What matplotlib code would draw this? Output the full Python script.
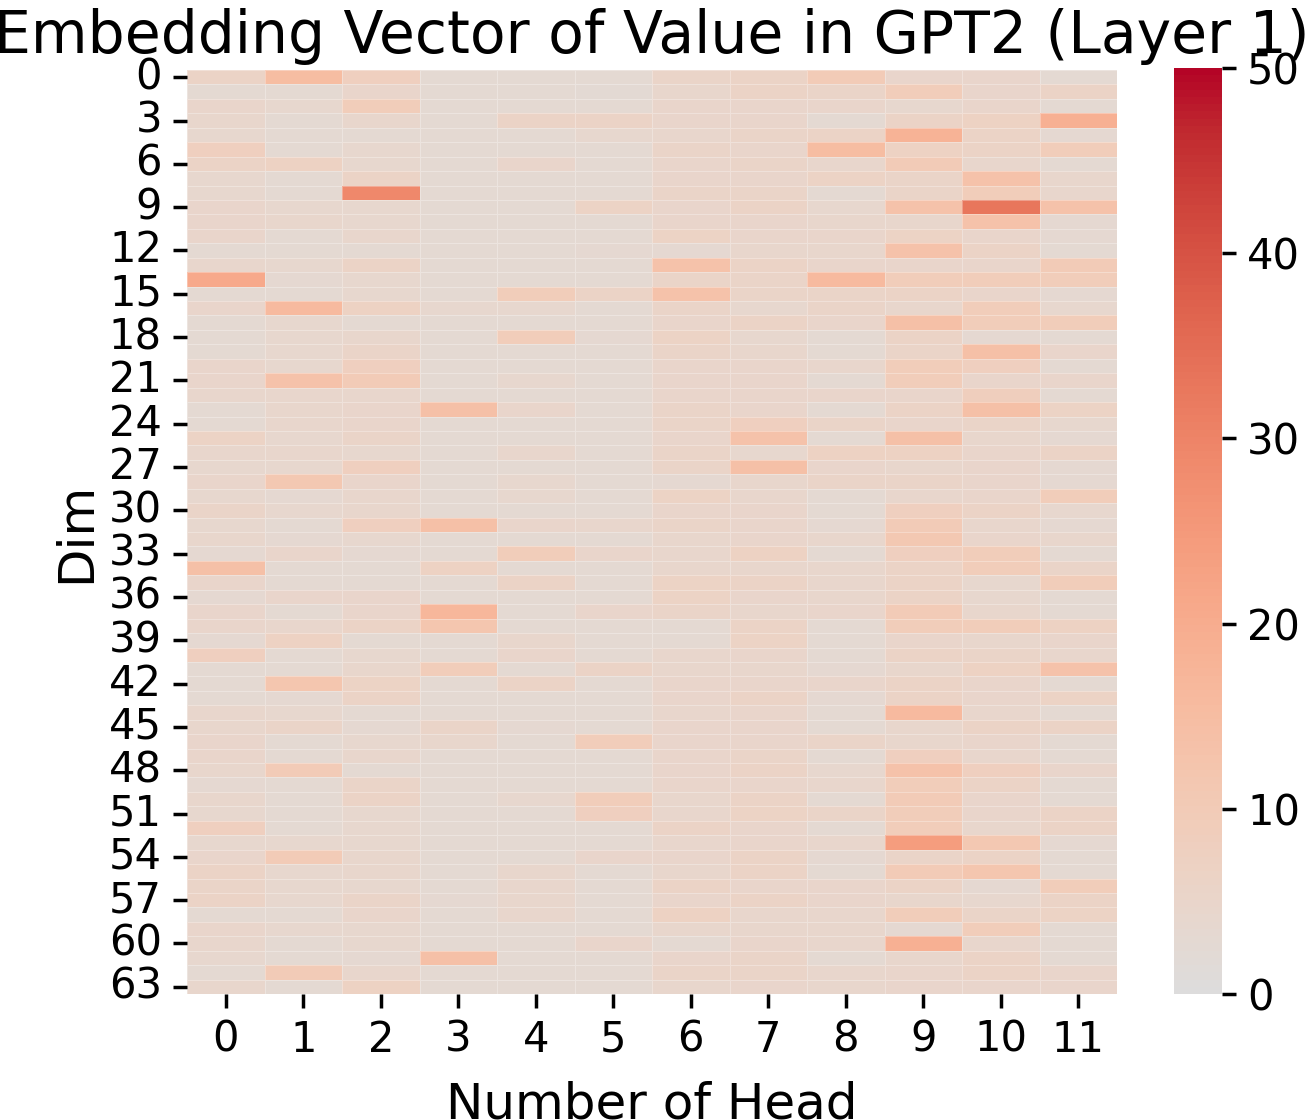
import matplotlib
matplotlib.use('Agg')
import matplotlib.pyplot as plt
import numpy as np
import seaborn as sns

# magnitude per (dim, head)
heads = list(range(12))
dim_ticks = list(range(0, 64, 3))
values = [
    [6, 15, 8, 3, 3, 3, 5.5, 6, 10, 5, 5, 3],
    [3, 3, 5, 3, 3, 2.5, 4.5, 6, 5.5, 9, 5, 6],
    [5, 4, 9, 3, 3, 3, 5, 5, 5, 4, 5, 3],
    [4.5, 3, 4.5, 3, 6, 6, 5, 5, 3, 6, 7, 19],
    [4, 3, 3, 3, 3, 4, 4.5, 5.5, 6, 18, 6, 3.5],
    [8, 3, 4, 3, 3, 3, 5.5, 5, 15, 7, 6, 9],
    [6, 7, 4, 3, 5, 3, 5, 5.5, 4.5, 10, 4.5, 3],
    [4, 3, 6, 3, 3, 3, 5, 5, 6.5, 5.5, 13, 4.5],
    [4, 3, 29, 3, 3, 3, 5.5, 5.5, 3, 5.5, 9, 4.5],
    [5, 4, 4, 3, 3, 6.5, 5, 6, 4, 13, 33, 13],
    [5, 4.5, 4, 3, 3, 3, 5, 5, 4.5, 4.5, 13, 3.5],
    [5, 3, 4.5, 3, 3, 3, 6.5, 5, 5, 6.5, 5, 3.5],
    [3, 3, 3, 3, 3, 3.5, 3.5, 4.5, 4.5, 13, 6, 3],
    [4.5, 4, 6, 3, 3, 3, 13, 6, 5, 5, 5, 10],
    [21, 3.5, 4, 3, 3, 3, 5.5, 5.5, 16, 9, 9, 9],
    [3, 3, 4, 3, 9, 6, 13, 5.5, 5.5, 6, 5, 3.5],
    [5, 16, 7, 4, 4, 3, 5.5, 4, 5.5, 4.5, 9, 4],
    [3, 4, 3, 3, 3, 3, 5, 6, 5, 14, 9, 9],
    [3, 4, 4.5, 3, 9, 3.5, 6.5, 4, 3, 6, 3.5, 3],
    [3, 4, 5.5, 3, 3, 3, 5.5, 4.5, 3, 5.5, 14, 5],
    [5, 4, 8, 3, 3, 3, 5, 5, 4.5, 9, 8, 3],
    [5, 13, 10, 3, 4, 3, 5, 5, 3, 9, 5, 5],
    [4.5, 4.5, 4.5, 3, 3, 3, 5, 5, 5, 5, 8.5, 3],
    [3, 4.5, 5, 14, 5, 3, 5.5, 5, 3, 6, 14, 6.5],
    [3, 4.5, 5, 3, 3, 3, 5.5, 8, 5.5, 5, 5.5, 4],
    [6.5, 4, 5.5, 3, 3, 3, 5, 13, 3, 14, 4.5, 3.5],
    [4.5, 4.5, 4, 3, 4.5, 3, 5.5, 4, 7, 7, 5, 6],
    [4, 4, 8, 3, 3, 3, 5.5, 14, 5, 4.5, 5, 3.5],
    [5, 11, 5, 3, 4, 3, 3.5, 4.5, 5.5, 5.5, 5, 3.5],
    [4, 3.5, 4.5, 3, 4, 3, 6.5, 4.5, 3, 4.5, 5, 9],
    [5.5, 4, 4.5, 3, 3, 3, 5, 5, 3, 8, 6, 4],
    [4, 3, 8, 14, 5, 4.5, 5.5, 5, 3.5, 10, 4.5, 3.5],
    [4.5, 3.5, 4, 3, 3, 3, 4.5, 5, 4.5, 11, 5, 4.5],
    [3.5, 5, 3.5, 3, 9, 5, 4.5, 7, 3, 8, 9, 3],
    [14, 3, 3, 7, 3, 3, 4.5, 4.5, 4.5, 6, 9, 5.5],
    [5, 3, 3, 3, 6, 3, 6.5, 6, 4.5, 6, 4, 9],
    [3.5, 5, 5, 3, 3, 3, 6.5, 5, 4.5, 6, 4, 3],
    [5, 3, 5, 17, 3, 5, 5.5, 4.5, 5, 10, 4.5, 3],
    [5, 4.5, 6, 12, 3, 3, 3, 6, 3, 9, 9, 7],
    [3.5, 7, 3, 3, 4.5, 3, 3, 6.5, 3, 5, 4.5, 5],
    [8, 3, 4, 3, 5, 3, 4.5, 5, 3, 6, 5.5, 4.5],
    [3, 3, 4.5, 9, 3, 6, 4.5, 4.5, 3.5, 4.5, 7, 13],
    [3, 12, 6.5, 3, 6, 3, 5, 5, 5, 6, 5, 3],
    [3, 3.5, 6, 3, 3, 3, 5, 6, 3.5, 6, 5, 6.5],
    [4.5, 4, 3, 3, 3, 3, 4.5, 5, 3, 16, 4.5, 3],
    [4.5, 5.5, 3.5, 5.5, 3.5, 3, 5, 5, 3, 4.5, 6, 6],
    [5, 3, 4, 4.5, 3, 9, 5, 5, 5.5, 4.5, 5, 3],
    [5, 3, 4.5, 3, 3, 3, 5, 5.5, 3, 8, 4.5, 3],
    [4.5, 10, 3, 3, 3, 3, 5, 6, 4, 13, 8, 5],
    [3.5, 3, 5.5, 3, 3, 3, 5, 5, 4.5, 9, 6, 3],
    [4.5, 3, 6, 3, 4, 9, 4.5, 6, 3, 10, 5, 3],
    [4, 3, 4, 3, 3, 8, 4.5, 6.5, 5.5, 9, 5, 6],
    [8, 3, 4, 3, 3, 3, 6, 5, 3, 9, 4.5, 6],
    [4, 4, 4, 3, 3, 3, 4.5, 5, 4.5, 24, 11, 3.5],
    [5, 10, 4.5, 3, 3, 5, 5, 6, 3.5, 5.5, 6, 3],
    [6, 4, 4.5, 3, 4.5, 3, 4.5, 6, 3, 10, 12, 3],
    [5.5, 4, 4, 3, 4.5, 3, 6, 5, 5, 6, 3.5, 9],
    [6, 4, 5.5, 3.5, 4.5, 3, 5, 6, 5, 4.5, 4, 6],
    [3, 3, 5, 3, 4.5, 3, 7, 4.5, 4.5, 9, 5.5, 6.5],
    [5, 4, 4, 3, 3, 3, 4.5, 4.5, 4.5, 3.5, 9, 3],
    [4.5, 3, 4, 3, 3, 5, 3, 5, 4.5, 19, 4.5, 3],
    [4, 3, 3.5, 14, 3, 3, 5, 5.5, 3, 4.5, 6, 3],
    [3, 10, 4.5, 3, 3, 3, 5.5, 5.5, 4.5, 5, 6, 5],
    [4.5, 3, 7, 3, 3, 3, 4.5, 5, 4.5, 5, 5, 5],
]

TICK_FS = 30
LABEL_FS = 36

W, H = 1305, 1120
fig = plt.figure(figsize=(W / 100, H / 100), dpi=100)
ax = fig.add_axes([187 / W, 1 - 994 / H, 930 / W, 924 / H])
cax = fig.add_axes([1174 / W, 1 - 994 / H, 48 / W, 926 / H])

sns.heatmap(np.array(values), ax=ax, cbar_ax=cax, cmap='coolwarm', center=0,
            vmin=0, vmax=50, linewidths=0.4, linecolor=(1, 1, 1, 0.3))

ax.set_xticks(np.array(heads) + 0.5)
ax.set_xticklabels([str(h) for h in heads], rotation=0)
ax.set_yticks(np.array(dim_ticks) + 0.5)
ax.set_yticklabels([str(d) for d in dim_ticks], rotation=0)
ax.tick_params(axis='both', length=10, width=2.5, labelsize=TICK_FS, pad=8)
ax.set_xlabel('Number of Head', fontsize=LABEL_FS, labelpad=14)
ax.set_ylabel('Dim', fontsize=LABEL_FS, labelpad=6)
ax.set_title('Embedding Vector of Value in GPT2 (Layer 1)', fontsize=42, pad=12)

cax.tick_params(length=10, width=2.5, labelsize=TICK_FS, pad=8)
cax.set_yticks([0, 10, 20, 30, 40, 50])

fig.savefig('out.png', dpi=100)
